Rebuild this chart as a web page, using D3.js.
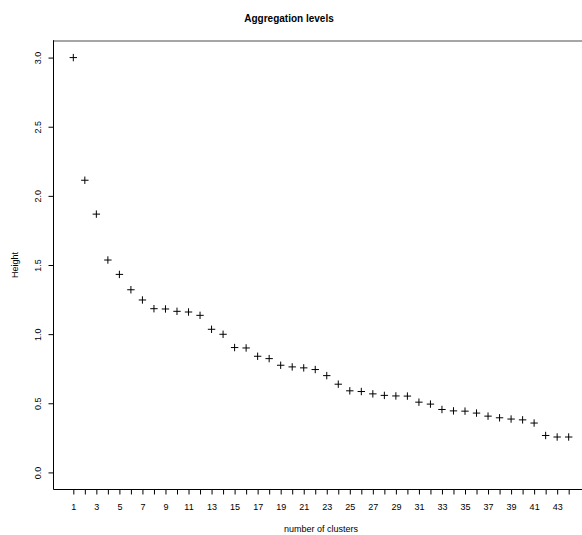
<!DOCTYPE html>
<html>
<head>
<meta charset="utf-8">
<script src="https://cdn.jsdelivr.net/npm/d3@7"></script>
<style>
  html, body { margin: 0; padding: 0; background: #fff; }
  svg { display: block; }
  text { font-family: "Liberation Sans", Arial, Helvetica, sans-serif; }
</style>
</head>
<body>
<div id="chart"></div>
<script>
// ---- Data ----
const clusters = d3.range(1, 45); // 1..44
const heights = [
  3.00, 2.113, 1.868, 1.536, 1.432, 1.321, 1.247, 1.184, 1.182, 1.165,
  1.160, 1.136, 1.035, 0.999, 0.903, 0.900, 0.840, 0.823, 0.775, 0.763,
  0.756, 0.744, 0.700, 0.638, 0.590, 0.585, 0.568, 0.557, 0.553, 0.552,
  0.508, 0.494, 0.455, 0.445, 0.443, 0.429, 0.407, 0.395, 0.386, 0.380,
  0.357, 0.267, 0.256, 0.256
];
const yTickValues = [0, 0.5, 1.0, 1.5, 2.0, 2.5, 3.0];
const xTickValues = d3.range(1, 45);
const xLabelValues = d3.range(1, 44, 2);
const titleText = "Aggregation levels";
const xLabelText = "number of clusters";
const yLabelText = "Height";

// ---- Layout ----
const W = 582, H = 535;
const mLeft = 53.5, mRight = 588.5, mTop = 41, mBottom = 489;

const svg = d3.select("#chart").append("svg")
  .attr("width", W).attr("height", H);

const x = d3.scaleLinear().domain([-0.72, 45.72]).range([mLeft, mRight]);
const y = d3.scaleLinear().domain([-0.12, 3.12]).range([mBottom, mTop]);

// box lines
svg.append("line").attr("x1", mLeft).attr("x2", W).attr("y1", mTop).attr("y2", mTop)
  .attr("stroke", "#888").attr("stroke-width", 1.6);
svg.append("line").attr("x1", mLeft).attr("x2", mLeft).attr("y1", mTop - 0.8).attr("y2", mBottom + 0.5)
  .attr("stroke", "#000").attr("stroke-width", 1);
svg.append("line").attr("x1", mLeft).attr("x2", W).attr("y1", mBottom + 0.5).attr("y2", mBottom + 0.5)
  .attr("stroke", "#000").attr("stroke-width", 1);

// y axis
const yAxis = svg.append("g").attr("transform", `translate(${mLeft},0)`)
  .call(d3.axisLeft(y).tickValues(yTickValues).tickSize(5).tickFormat(d3.format(".1f")));
yAxis.select(".domain").remove();
yAxis.selectAll("line").attr("stroke", "#000");
yAxis.selectAll("text")
  .attr("x", null).attr("dy", null)
  .attr("transform", "translate(-13,0) rotate(-90)")
  .attr("text-anchor", "middle")
  .attr("dy", "0em")
  .style("font-size", "9px").attr("fill", "#000");

// x axis
const xAxis = svg.append("g").attr("transform", `translate(0,${mBottom + 0.5})`)
  .call(d3.axisBottom(x).tickValues(xTickValues).tickSize(5)
    .tickFormat(d => xLabelValues.includes(d) ? d : ""));
xAxis.select(".domain").remove();
xAxis.selectAll("line").attr("stroke", "#000");
xAxis.selectAll("text").attr("y", 14).attr("dy", "0.71em")
  .style("font-size", "9px").attr("fill", "#000");

// points as "+"
const s = 3.7;
const pts = svg.append("g").attr("stroke", "#000").attr("stroke-width", 1);
clusters.forEach((c, i) => {
  const px = x(c), py = y(heights[i]);
  pts.append("path").attr("d", `M${px - s},${py}H${px + s}M${px},${py - s}V${py + s}`);
});

// labels
svg.append("text").attr("x", 289).attr("y", 22).attr("text-anchor", "middle")
  .style("font-size", "10px").style("font-weight", "bold").text(titleText);
svg.append("text").attr("x", (mLeft + mRight) / 2).attr("y", 532).attr("text-anchor", "middle")
  .style("font-size", "9px").text(xLabelText);
svg.append("text").attr("transform", `translate(18,${(mTop + mBottom) / 2}) rotate(-90)`)
  .attr("text-anchor", "middle").style("font-size", "9px").text(yLabelText);
</script>
</body>
</html>
